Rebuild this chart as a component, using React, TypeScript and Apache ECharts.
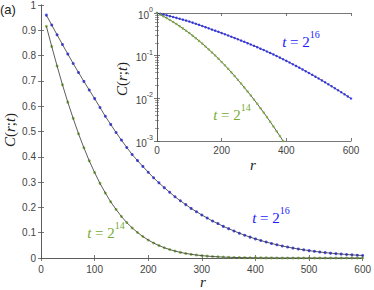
import React, { useEffect, useRef } from "react";
import * as echarts from "echarts";

const rValues = [
  10, 20, 30, 40, 50, 60, 70, 80, 90, 100,
  110, 120, 130, 140, 150, 160, 170, 180, 190, 200,
  210, 220, 230, 240, 250, 260, 270, 280, 290, 300,
  310, 320, 330, 340, 350, 360, 370, 380, 390, 400,
  410, 420, 430, 440, 450, 460, 470, 480, 490, 500,
  510, 520, 530, 540, 550, 560, 570, 580, 590, 600,
];

// t = 2^16
const c16 = [
  0.960, 0.921, 0.882, 0.844, 0.806, 0.769, 0.733, 0.698, 0.664, 0.630,
  0.595, 0.560, 0.528, 0.496, 0.466, 0.437, 0.409, 0.385, 0.362, 0.339,
  0.317, 0.297, 0.278, 0.260, 0.242, 0.226, 0.211, 0.196, 0.183, 0.170,
  0.158, 0.146, 0.136, 0.125, 0.116, 0.107, 0.098, 0.090, 0.0825, 0.0755,
  0.069, 0.063, 0.0574, 0.0523, 0.0476, 0.0432, 0.0392, 0.0355, 0.0322, 0.0291,
  0.0263, 0.0237, 0.0213, 0.0192, 0.0172, 0.0155, 0.0139, 0.0124, 0.0111, 0.0099,
];

// t = 2^14
const c14 = [
  0.916, 0.836, 0.759, 0.685, 0.616, 0.552, 0.491, 0.436, 0.384, 0.338,
  0.295, 0.257, 0.222, 0.192, 0.164, 0.140, 0.119, 0.101, 0.0849, 0.0711,
  0.0593, 0.0492, 0.0406, 0.0334, 0.0273, 0.0222, 0.018, 0.0145, 0.0117, 0.00934,
  0.00743, 0.00588, 0.00463, 0.00363, 0.00283, 0.0022, 0.0017, 0.00131, 0.001, 0.000765,
  0.00058, 0.00044, 0.00033, 0.00025, 0.00018, 0.000136, 0.0001, 0.000074, 0.000054, 0.000039,
  0.000028, 0.00002, 0.000014, 0.00001, 0.000007, 0.000005, 0.0000035, 0.0000024, 0.0000016, 0.0000011,
];

// value at r = 0 shown only in the inset
const r0 = 0;
const c0 = 1;

const BLUE = "#1a1aff";
const GREEN = "#77ac30";
const AXIS = "#555555";
const LABEL = "#444444";
const SERIF = "'Liberation Serif', 'Times New Roman', serif";

const pairs = (ys: number[]) => rValues.map((r, i) => [r, ys[i]]);
const insetPairs = (ys: number[]) => [[r0, c0], ...pairs(ys)];

const eqRich = (color: string) => ({
  i: { fontFamily: SERIF, fontStyle: "italic", fontSize: 15, fill: color, verticalAlign: "bottom", padding: [5, 0, 0, 0] },
  n: { fontFamily: SERIF, fontSize: 15, fill: color, verticalAlign: "bottom", padding: [5, 0, 0, 0] },
  s: { fontFamily: SERIF, fontSize: 10, fill: color, verticalAlign: "top" },
});

const labelRich = {
  i: { fontFamily: SERIF, fontStyle: "italic", fontSize: 15, fill: "#222" },
  n: { fontFamily: SERIF, fontSize: 15, fill: "#222" },
};

function App() {
  const ref = useRef<HTMLDivElement>(null);
  useEffect(() => {
    if (!ref.current) return;
    const chart = echarts.init(ref.current, undefined, { renderer: "svg" });
    const tickStyle = { show: true, inside: true, length: 3, lineStyle: { color: AXIS, width: 0.8 } };
    const lineStyle = { show: true, lineStyle: { color: AXIS, width: 0.8 } };
    const labelFont = { fontFamily: "Liberation Sans", fontSize: 10, color: LABEL };
    const mainX = { type: "value", min: 0, max: 600, interval: 100, splitLine: { show: false } };
    const mainY = { type: "value", min: 0, max: 1, interval: 0.1, splitLine: { show: false } };
    const insX = { type: "value", min: 0, max: 600, interval: 200, splitLine: { show: false } };
    const insY = { type: "log", logBase: 10, min: 0.001, max: 1, splitLine: { show: false } };

    const option: any = {
      animation: false,
      backgroundColor: "#ffffff",
      grid: [
        { left: 41, top: 3, width: 323, height: 255, show: false },
        { left: 157, top: 13, width: 194, height: 128, show: true, backgroundColor: "#ffffff", borderWidth: 0, z: 5 },
      ],
      xAxis: [
        { ...mainX, gridIndex: 0, position: "bottom", axisLine: lineStyle, axisTick: tickStyle,
          axisLabel: { ...labelFont, margin: 6 } },
        { ...mainX, gridIndex: 0, position: "top", axisLine: lineStyle, axisTick: tickStyle, axisLabel: { show: false } },
        { ...insX, gridIndex: 1, position: "bottom", axisLine: lineStyle, axisTick: tickStyle,
          axisLabel: { ...labelFont, margin: 4 }, z: 6 },
        { ...insX, gridIndex: 1, position: "top", axisLine: lineStyle, axisTick: tickStyle, axisLabel: { show: false }, z: 6 },
      ],
      yAxis: [
        { ...mainY, gridIndex: 0, position: "left", axisLine: lineStyle, axisTick: tickStyle,
          axisLabel: { ...labelFont, margin: 5 } },
        { ...mainY, gridIndex: 0, position: "right", axisLine: lineStyle, axisTick: tickStyle, axisLabel: { show: false } },
        { ...insY, gridIndex: 1, position: "left", axisLine: lineStyle, axisTick: tickStyle,
          minorTick: { show: true, splitNumber: 9, length: 2, lineStyle: { color: AXIS, width: 0.6 } },
          axisLabel: {
            margin: 4,
            formatter: (v: number) => `{b|10}{s|${Math.round(Math.log10(v))}}`,
            rich: {
              b: { ...labelFont, verticalAlign: "bottom", padding: [4, 0, 0, 0] },
              s: { fontFamily: "Liberation Sans", fontSize: 7, color: LABEL, verticalAlign: "top" },
            },
          }, z: 6 },
        { ...insY, gridIndex: 1, position: "right", axisLine: lineStyle, axisTick: tickStyle,
          minorTick: { show: true, splitNumber: 9, length: 2, lineStyle: { color: AXIS, width: 0.6 } },
          axisLabel: { show: false }, z: 6 },
      ],
      series: [
        { type: "scatter", xAxisIndex: 0, yAxisIndex: 0, data: pairs(c16), symbolSize: 3, itemStyle: { color: BLUE } },
        { type: "line", xAxisIndex: 0, yAxisIndex: 0, data: pairs(c16), showSymbol: false, lineStyle: { color: "#333", width: 0.8 } },
        { type: "scatter", xAxisIndex: 0, yAxisIndex: 0, data: pairs(c14), symbolSize: 3, itemStyle: { color: GREEN } },
        { type: "line", xAxisIndex: 0, yAxisIndex: 0, data: pairs(c14), showSymbol: false, lineStyle: { color: "#333", width: 0.8 } },
        { type: "scatter", xAxisIndex: 2, yAxisIndex: 2, data: insetPairs(c16), symbolSize: 2.5, itemStyle: { color: BLUE }, z: 7 },
        { type: "line", xAxisIndex: 2, yAxisIndex: 2, data: insetPairs(c16), showSymbol: false, lineStyle: { color: "#333", width: 0.8 }, z: 7 },
        { type: "scatter", xAxisIndex: 2, yAxisIndex: 2, data: insetPairs(c14), symbolSize: 2.5, itemStyle: { color: GREEN }, z: 7 },
        { type: "line", xAxisIndex: 2, yAxisIndex: 2, data: insetPairs(c14), showSymbol: false, lineStyle: { color: "#333", width: 0.8 }, z: 7 },
      ],
      graphic: [
        { type: "text", x: 0, y: 3, style: { text: "(a)", fontFamily: "Liberation Sans", fontSize: 13, fill: "#222" } },
        { type: "text", x: 271, y: 215, z: 10, style: { text: "{i|t}{n| = 2}{s|16}", rich: eqRich(BLUE), align: "center", verticalAlign: "middle" } },
        { type: "text", x: 106, y: 230, z: 10, style: { text: "{i|t}{n| = 2}{s|14}", rich: eqRich(GREEN), align: "center", verticalAlign: "middle" } },
        { type: "text", x: 301, y: 39, z: 10, style: { text: "{i|t}{n| = 2}{s|16}", rich: eqRich(BLUE), align: "center", verticalAlign: "middle" } },
        { type: "text", x: 232, y: 112, z: 10, style: { text: "{i|t}{n| = 2}{s|14}", rich: eqRich(GREEN), align: "center", verticalAlign: "middle" } },
        { type: "text", x: 203, y: 282, z: 10, style: { text: "{i|r}", rich: labelRich, align: "center", verticalAlign: "middle" } },
        { type: "text", x: 253, y: 165, z: 10, style: { text: "{i|r}", rich: labelRich, align: "center", verticalAlign: "middle" } },
        { type: "text", x: 10, y: 130, rotation: Math.PI / 2, z: 10, style: { text: "{i|C}{n|(}{i|r}{n|;}{i|t}{n|)}", rich: labelRich, align: "center", verticalAlign: "middle" } },
        { type: "text", x: 122, y: 79, rotation: Math.PI / 2, z: 10, style: { text: "{i|C}{n|(}{i|r}{n|;}{i|t}{n|)}", rich: labelRich, align: "center", verticalAlign: "middle" } },
      ],
    };
    chart.setOption(option);
    return () => chart.dispose();
  }, []);
  return <div ref={ref} style={{ width: 374, height: 290, position: "absolute", left: 0, top: 0 }} />;
}

export default App;
